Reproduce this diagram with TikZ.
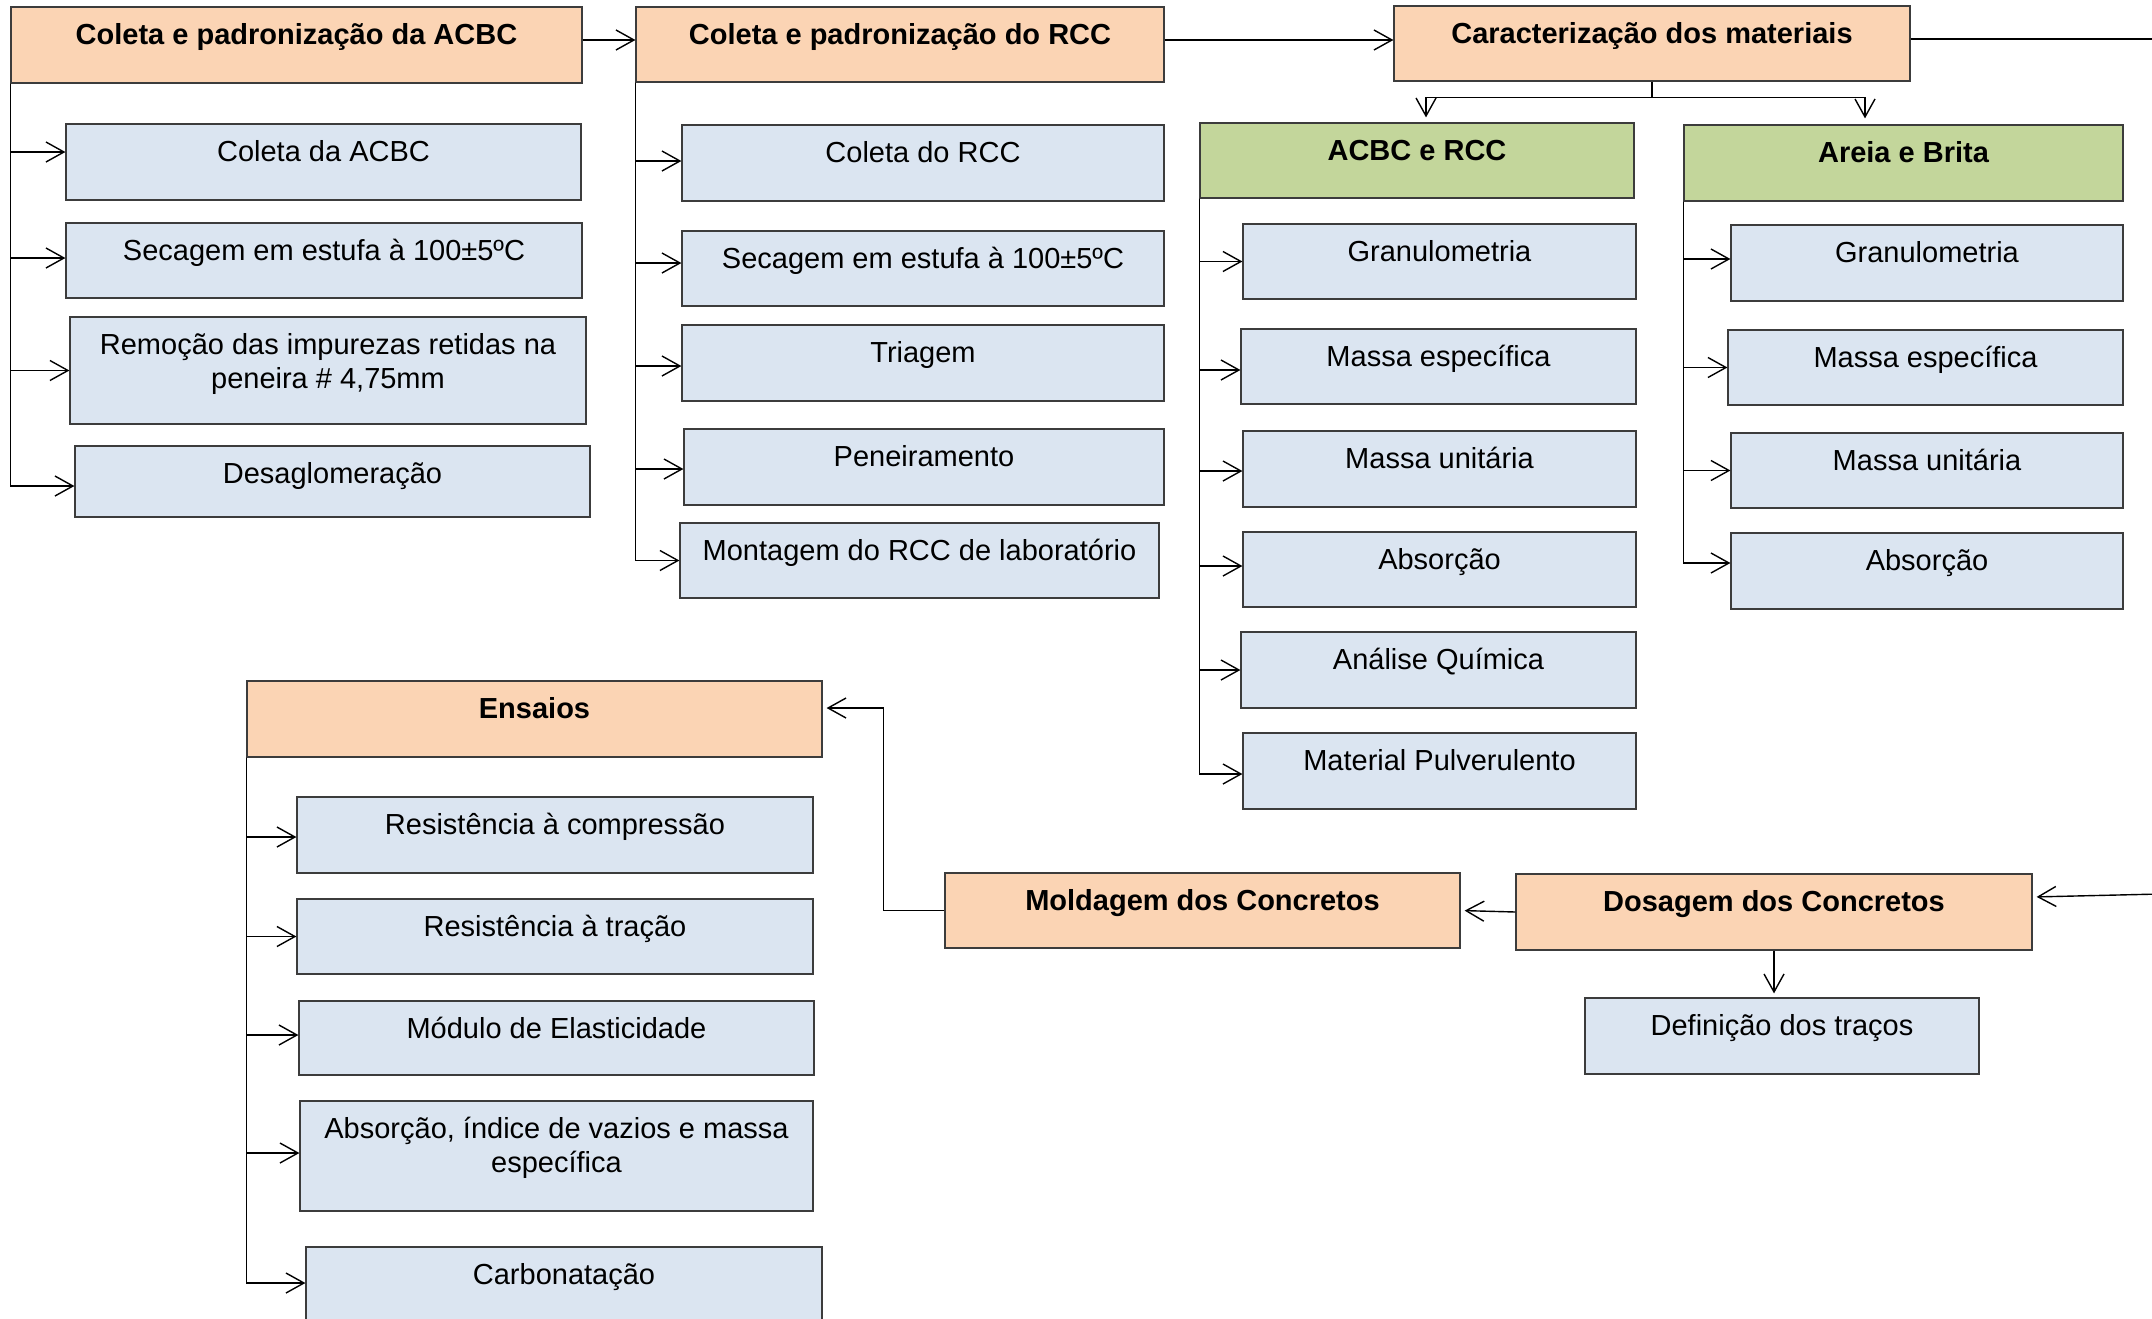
\documentclass[tikz,border=0pt]{standalone}
\usepackage{fontspec}
\setmainfont{Liberation Sans}
\usetikzlibrary{arrows.meta}

\definecolor{hdrfill}{HTML}{FBD4B4}
\definecolor{grpfill}{HTML}{C3D69B}
\definecolor{itemfill}{HTML}{DBE5F1}
\definecolor{edgegray}{HTML}{3C3C3C}

% A box given by its corners (in px, y downwards) with its text set near the top;
% the optional argument is the number of extra text lines (the label's base is its last line)
\newcommand\boxat[8][0]{%
  \node[#7, minimum width={(#5-#3)*0.5pt}, minimum height={(#6-#4)*0.5pt},
        label={[lbl, yshift={-#1*17pt}]north:#8}] (#2) at ({(#3+#5)/2},{(#4+#6)/2}) {};}
% Branch from the left edge of a parent box into a child box
\newcommand\feed[3]{\draw[conn] (#1.south west) |- ([yshift=#3*0.5pt]#2.west);}

\begin{document}
\begin{tikzpicture}[x=0.5pt, y=-0.5pt,
  box/.style={rectangle, draw=edgegray, line width=0.6pt, inner sep=0pt},
  hdr/.style={box, fill=hdrfill},
  grp/.style={box, fill=grpfill},
  item/.style={box, fill=itemfill},
  lbl/.style={anchor=base, yshift=-19pt, inner sep=0pt, align=center,
              font=\fontsize{14.5pt}{17pt}\selectfont},
  wire/.style={draw=black, line width=0.7pt},
  conn/.style={wire, -{Straight Barb[length=9pt, width=10pt]}}]

\useasboundingbox (0,0) rectangle (2152,1318);
\clip (0,0) rectangle (2152,1318);

% stage headers
\boxat{a1}{11}{7}{582}{83}{hdr}{\bfseries Coleta e padronização da ACBC}
\boxat{a2}{636}{7}{1164}{82}{hdr}{\bfseries Coleta e padronização do RCC}
\boxat{car}{1394}{6}{1910}{81}{hdr}{\bfseries Caracterização dos materiais}
\boxat{ens}{247}{681}{822}{757}{hdr}{\bfseries Ensaios}
\boxat{mol}{945}{873}{1460}{948}{hdr}{\bfseries Moldagem dos Concretos}
\boxat{dos}{1516}{874}{2032}{950}{hdr}{\bfseries Dosagem dos Concretos}

% material groups
\boxat{g1}{1200}{123}{1634}{198}{grp}{\bfseries ACBC e RCC}
\boxat{g2}{1684}{125}{2123}{201}{grp}{\bfseries Areia e Brita}

% ACBC steps
\boxat{b11}{66}{124}{581}{200}{item}{Coleta da ACBC}
\boxat{b12}{66}{223}{582}{298}{item}{Secagem em estufa à 100±5ºC}
\boxat[1]{b13}{70}{317}{586}{424}{item}{Remoção das impurezas retidas na\\peneira \# 4,75mm}
\boxat{b14}{75}{446}{590}{517}{item}{Desaglomeração}

% RCC steps
\boxat{b21}{682}{125}{1164}{201}{item}{Coleta do RCC}
\boxat{b22}{682}{231}{1164}{306}{item}{Secagem em estufa à 100±5ºC}
\boxat{b23}{682}{325}{1164}{401}{item}{Triagem}
\boxat{b24}{684}{429}{1164}{505}{item}{Peneiramento}
\boxat{b25}{680}{523}{1159}{598}{item}{Montagem do RCC de laboratório}

% ACBC e RCC tests
\boxat{c1}{1243}{224}{1636}{299}{item}{Granulometria}
\boxat{c2}{1241}{329}{1636}{404}{item}{Massa específica}
\boxat{c3}{1243}{431}{1636}{507}{item}{Massa unitária}
\boxat{c4}{1243}{532}{1636}{607}{item}{Absorção}
\boxat{c5}{1241}{632}{1636}{708}{item}{Análise Química}
\boxat{c6}{1243}{733}{1636}{809}{item}{Material Pulverulento}

% Areia e Brita tests
\boxat{d1}{1731}{225}{2123}{301}{item}{Granulometria}
\boxat{d2}{1728}{330}{2123}{405}{item}{Massa específica}
\boxat{d3}{1731}{433}{2123}{508}{item}{Massa unitária}
\boxat{d4}{1731}{533}{2123}{609}{item}{Absorção}

% concrete tests
\boxat{e1}{297}{797}{813}{873}{item}{Resistência à compressão}
\boxat{e2}{297}{899}{813}{974}{item}{Resistência à tração}
\boxat{e3}{299}{1001}{814}{1075}{item}{Módulo de Elasticidade}
\boxat[1]{e4}{300}{1101}{813}{1211}{item}{Absorção, índice de vazios e massa\\específica}
\boxat{e5}{306}{1247}{822}{1330}{item}{Carbonatação}

% mix design
\boxat{def}{1585}{998}{1979}{1074}{item}{Definição dos traços}

% branches
\feed{a1}{b11}{10}  \feed{a1}{b12}{2.5} \feed{a1}{b13}{0}  \feed{a1}{b14}{-4.5}
\feed{a2}{b21}{2}   \feed{a2}{b22}{5.5} \feed{a2}{b23}{-3} \feed{a2}{b24}{-2} \feed{a2}{b25}{0}
\feed{g1}{c1}{0}    \feed{g1}{c2}{-3.5} \feed{g1}{c3}{-2}  \feed{g1}{c4}{3.5}
\feed{g1}{c5}{0}    \feed{g1}{c6}{-3}
\feed{g2}{d1}{4}    \feed{g2}{d2}{0}    \feed{g2}{d3}{0}   \feed{g2}{d4}{8}
\feed{ens}{e1}{-2}  \feed{ens}{e2}{0}   \feed{ens}{e3}{3}  \feed{ens}{e4}{3}  \feed{ens}{e5}{5.5}

% main flow
\draw[conn] ([yshift=2.5pt]a1.east) -- ([yshift=2.5pt]a1.east -| a2.west);
\draw[conn] ([yshift=2.25pt]a2.east) -- ([yshift=2.25pt]a2.east -| car.west);

\coordinate (exitR) at (2160,39);
\draw[wire] ([yshift=2.25pt]car.east) -- (exitR);
\coordinate (entryR) at (2160,894);
\draw[conn, shorten >=2pt] (entryR) -- ([yshift=7.5pt]dos.east);

\coordinate (split) at ([yshift=-8pt]car.south);
\draw[wire] (car.south) -- (split);
\draw[conn, shorten >=2.5pt] (split) -| ([xshift=4.5pt]g1.north);
\draw[conn, shorten >=3pt] (split) -| ([xshift=-19.25pt]g2.north);

\draw[conn, shorten >=2pt] (dos.west) -- (mol.east);
\draw[conn, shorten >=2pt] (dos.south) -- (dos.south |- def.north);
\draw[conn, shorten >=2pt] (mol.west) -- ++(-61,0) |- ([yshift=5.5pt]ens.east);

\end{tikzpicture}
\end{document}
